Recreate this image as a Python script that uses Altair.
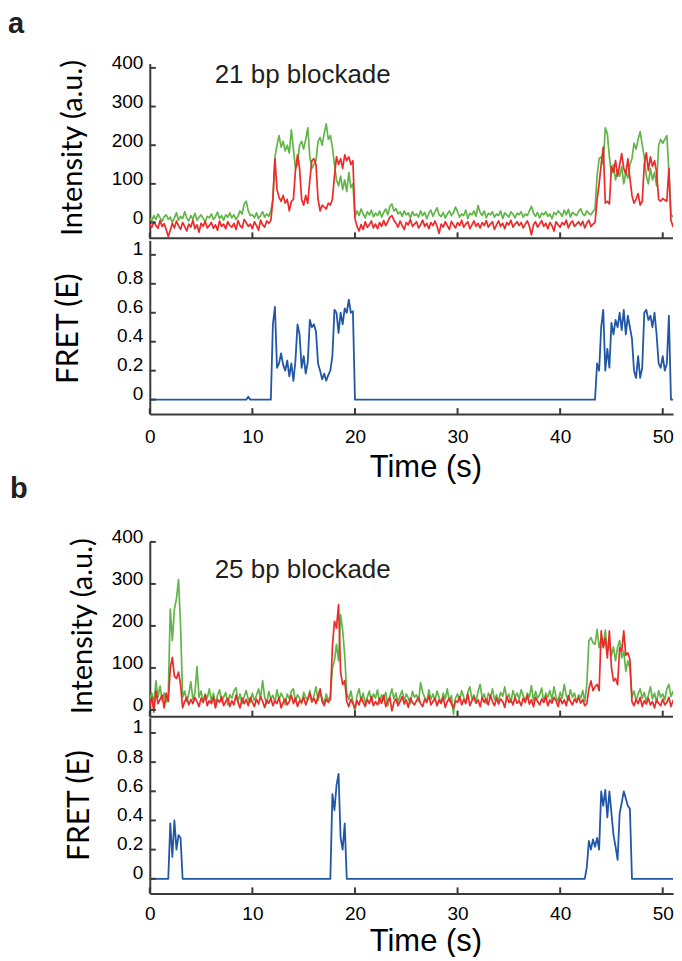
import altair as alt
import numpy as np
import pandas as pd

# ---------------- data ----------------
DT = 0.2          # seconds per sample
T_MAX = 51.0      # right edge of the visible time axis

# panel a (21 bp blockade) – donor (green) and acceptor (red) intensities, one row = 2 s
GREEN_A = [
    10, 5, 18, 8, 22, 12, 3, 15, 20, 8,
    14, 0, 12, 25, 6, 16, 10, 28, 12, 4,
    18, 9, 24, 6, 14, 20, 10, 2, 16, 12,
    22, 8, 15, 27, 10, 18, 6, 20, 14, 25,
    12, 20, 8, 16, 30, 22, 48, 55, 30, 18,
    20, 12, 25, 10, 18, 28, 14, 22, 16, 30,
    60, 170, 200, 225, 195, 210, 185, 200, 180, 240,
    190, 140, 150, 200, 210, 190, 215, 245, 170, 140,
    150, 160, 210, 220, 200, 230, 255, 215, 225, 195,
    150, 110, 95, 120, 85, 110, 80, 130, 90, 100,
    15, 30, 18, 35, 22, 12, 28, 20, 32, 15,
    24, 18, 30, 14, 26, 35, 20, 42, 48, 30,
    36, 22, 28, 16, 30, 20, 25, 12, 28, 18,
    22, 14, 30, 18, 26, 10, 24, 32, 16, 28,
    38, 20, 15, 26, 12, 22, 30, 18, 25, 40,
    28, 14, 22, 18, 32, 10, 24, 20, 30, 16,
    44, 26, 18, 30, 12, 24, 20, 28, 14, 22,
    18, 30, 10, 25, 20, 14, 28, 22, 12, 24,
    20, 28, 14, 22, 18, 30, 42, 24, 16, 26,
    12, 24, 20, 28, 16, 22, 10, 26, 20, 30,
    24, 16, 32, 20, 34, 14, 26, 22, 18, 28,
    36, 22, 18, 30, 24, 20, 28, 35, 120, 165,
    170, 150, 245, 230, 170, 125, 150, 110, 135, 120,
    145, 100, 130, 115, 150, 165, 205, 190, 215, 235,
    200, 170, 120, 100, 140, 110, 130, 95, 200, 215,
    205, 215, 225, 130, 20, 15, 25, 35, 50, 60,
]
RED_A = [
    -5, -12, 2, -8, -15, 5, -10, -3, -18, -36,
    -20, -2, -14, 4, -8, -18, 0, -10, -22, -4,
    -12, 6, -16, -6, -25, -2, -10, 3, -14, -8,
    0, -15, -6, -20, 4, -10, -4, -16, 2, -8,
    -12, -2, -18, 5, -8, -14, 8, 0, -10, -4,
    -16, 2, -8, -20, 6, -6, -12, 4, -2, 5,
    60, 165, 85, 65, 55, 70, 50, 60, 30, 55,
    60, 135, 175, 140, 60, 45, 70, 50, 110, 160,
    165, 150, 60, 30, 45, 40, 35, 50, 45, 60,
    120, 170, 150, 165, 140, 175, 160, 170, 150, 160,
    10, -10, -22, -5, -18, 2, -12, -6, 4, -14,
    -4, -16, 0, -10, 5, -8, 2, 14, 18, 6,
    -2, -12, 4, -8, -18, 0, -6, 8, -10, -4,
    2, -14, -6, 6, -10, -2, -16, 0, -8, 4,
    -10, -28, -4, -12, 2, -8, -18, 3, -6, -14,
    0, -8, 6, -12, -4, 2, -16, -6, 4, -10,
    -2, -14, 0, -8, 5, -12, -4, 2, -18, -6,
    4, -10, -2, -16, 0, -6, 6, -12, -4, 2,
    -8, 0, -14, -4, 4, -10, -32, -6, 2, -12,
    -4, 5, -10, -2, -16, 0, -8, -22, 2, -6,
    -12, 0, -6, 6, -14, -2, 4, -10, -4, 2,
    -8, 3, -14, -2, 6, -10, -4, 0, 60, 100,
    150, 195, 50, 55, 48, 145, 130, 160, 120, 150,
    178, 140, 125, 165, 115, 70, 50, 60, 75, 45,
    55, 150, 180, 135, 170, 145, 160, 130, 60, 55,
    62, 58, 55, 140, 5, -10, 2, -8, 4, -6,
]
# FRET efficiency: zero outside the bound states; (start time, values every DT)
FRET_A_EVENTS = [
    (9.6, [0.02]),
    (12.0, [0.52, 0.64, 0.22, 0.25, 0.32, 0.24, 0.20, 0.27, 0.16, 0.25,
            0.13, 0.27, 0.52, 0.45, 0.22, 0.30, 0.18, 0.26, 0.55, 0.50,
            0.52, 0.47, 0.25, 0.20, 0.14, 0.18, 0.13, 0.17, 0.20, 0.30,
            0.62, 0.60, 0.46, 0.60, 0.52, 0.63, 0.60, 0.69, 0.60, 0.61]),
    (43.6, [0.25, 0.20, 0.50, 0.62, 0.20, 0.35, 0.22, 0.53, 0.45, 0.55,
            0.50, 0.60, 0.48, 0.62, 0.45, 0.58, 0.50, 0.42, 0.20, 0.15,
            0.30, 0.15, 0.22, 0.60, 0.62, 0.55, 0.58, 0.50, 0.60, 0.45,
            0.25, 0.22, 0.30, 0.20, 0.25, 0.58]),
]

# panel b (25 bp blockade)
GREEN_B = [
    25, 40, 15, 69, 30, 57, 22, 40, 18, 35,
    240, 165, 240, 265, 310, 200, 30, 45, 20, 38,
    67, 25, 40, 103, 30, 45, 18, 38, 28, 50,
    22, 40, 15, 35, 48, 20, 30, 42, 12, 36,
    28, 45, 53, 20, 38, 15, 32, 46, 25, 18,
    40, 22, 35, 50, 28, 69, 30, 15, 44, 26,
    35, 18, 48, 24, 40, 30, 12, 38, 26, 45,
    50, 20, 36, 28, 15, 42, 30, 24, 46, 18,
    34, 55, 22, 40, 28, 15, 38, 24, 30, 100,
    117, 156, 117, 227, 190, 130, 40, 25, 45, 20,
    -5, 35, 50, 22, 40, 15, 30, 45, 20, 38,
    28, 48, 15, 36, 24, 42, 10, 32, 50, 26,
    40, 18, 34, 46, 22, 38, 28, 15, 44, 30,
    36, 20, 65, 42, 30, 18, 48, 25, 38, 22,
    45, 30, 15, 40, 26, 50, 20, 34, -10, 28,
    38, 22, 46, 30, 18, 42, 55, 26, 36, 20,
    44, 61, 28, 38, 15, 40, 30, 50, 24, 36,
    20, 42, 32, 55, 26, 38, 18, 46, 30, 40,
    25, 48, 34, 20, 40, 30, 58, 22, 44, 28,
    36, 52, 18, 40, 30, 46, 24, 55, 32, 20,
    42, 28, 61, 34, 22, 48, 30, 40, 18, 36,
    28, 46, 20, 60, 164, 172, 160, 156, 192, 148,
    170, 150, 190, 140, 160, 130, 150, 117, 150, 165,
    124, 140, 92, 117, 100, 30, 45, 22, 38, 50,
    28, 42, 20, 35, 55, 26, 40, 18, 46, 30,
    38, 24, 50, 61, 32, 44, 20, 36, 52, 28,
]
RED_B = [
    10, 30, -5, 45, 15, 25, 35, 5, 40, 20,
    100, 125, 80, 75, 90, 60, 5, 20, 30, 12,
    25, 15, 30, 20, 8, 28, 18, 35, 10, 22,
    15, 30, 5, 25, 18, 32, 10, 20, 28, 8,
    22, 12, 35, 18, 5, 28, 15, 25, 10, 30,
    18, 8, 26, 14, 32, 20, 6, 24, 16, 28,
    10, 22, 15, 30, 5, 18, 26, 12, 20, 35,
    15, 28, 8, 22, 18, 30, 12, 25, 40, 20,
    28, 15, 32, 50, 20, 10, 26, 18, 25, 150,
    211, 195, 251, 90, 60, 70, 20, 8, 25, 15,
    5, 22, 12, 30, 18, 8, 25, 15, 32, 10,
    20, 12, 28, 16, 35, 8, 22, 30, -2, 18,
    26, 10, 20, 32, 14, 24, 6, 28, 18, 12,
    22, 30, 15, 8, 26, 18, 34, 12, 20, 28,
    10, 24, 16, 30, 6, 20, 28, 14, 5, 22,
    18, 32, 12, 25, 15, 38, 10, 22, 30, 16,
    24, 8, 30, 18, 26, 12, 35, 20, 10, 28,
    14, 26, 20, 6, 32, 18, 24, 12, 30, 16,
    22, 10, 28, 18, 35, 14, 24, 8, 30, 20,
    12, 26, 18, 32, 10, 24, 16, 30, 22, 8,
    28, 15, 24, 10, 34, 20, 12, 26, 18, 30,
    16, 25, 10, 15, 50, 69, 46, 55, 61, 46,
    188, 148, 170, 124, 188, 101, 69, 75, 60, 148,
    140, 188, 130, 136, 120, 20, 10, 25, 15, 30,
    8, 22, 14, 28, 12, 20, 5, 24, 16, 10,
    26, 12, 18, 30, 8, 22, 15, 28, 10, 20,
]
FRET_B_EVENTS = [
    (2.0, [0.38, 0.15, 0.40, 0.20, 0.30, 0.28]),
    (17.8, [0.58, 0.47, 0.64, 0.72, 0.28, 0.20, 0.38]),
    (42.6, [0.08, 0.26, 0.20, 0.27, 0.22, 0.28, 0.20, 0.60, 0.50, 0.61,
            0.42, 0.60, 0.45, 0.30, 0.22, 0.13, 0.45, 0.52, 0.60, 0.55,
            0.50, 0.48]),
]

INT_TICKS = [0, 100, 200, 300, 400]
FRET_TICKS = [0, 0.2, 0.4, 0.6, 0.8, 1]
TIME_TICKS = [0, 10, 20, 30, 40, 50]

# ---------------- styling ----------------
GREEN = "#62b548"
RED = "#ec2a2a"
BLUE = "#2257a6"
AXIS = "#3a3a3a"
NUM_FONT = "Liberation Sans"
TITLE_FONT = "Lato"
W = 524


def frames(values):
    return pd.DataFrame({"t": np.round(np.arange(len(values)) * DT, 3), "value": values})


def fret_frames(events, n):
    vals = np.zeros(n)
    for start, seg in events:
        i0 = int(round(start / DT))
        vals[i0:i0 + len(seg)] = seg
    return frames(vals)


def x_enc(with_labels, label_pad=22, title_y=62.7):
    scale = alt.Scale(domain=[0, T_MAX], nice=False, zero=False)
    if with_labels:
        axis = alt.Axis(values=TIME_TICKS, ticks=False, tickSize=0, grid=False,
                        domainColor=AXIS, domainWidth=2,
                        labelFont=NUM_FONT, labelFontSize=19, labelColor="black",
                        labelPadding=label_pad, labelBaseline="middle", labelFlush=False,
                        title="Time (s)", titleFont=NUM_FONT, titleFontSize=31,
                        titleFontWeight="normal", titleColor="black",
                        titleX=276, titleY=title_y, titleAlign="center",
                        titleBaseline="alphabetic", titleAngle=0)
        return alt.X("t:Q", scale=scale, axis=axis)
    return alt.X("t:Q", scale=scale, axis=None)


def y_enc(domain, ticks, title, title_x, title_y, fmt, label_offset, title_size):
    return alt.Y("value:Q", scale=alt.Scale(domain=domain, nice=False, zero=False),
                 axis=alt.Axis(values=ticks, format=fmt, ticks=False, tickSize=0, grid=False,
                               domainColor=AXIS, domainWidth=2,
                               labelFont=NUM_FONT, labelFontSize=19, labelColor="black",
                               labelPadding=7, labelOffset=label_offset, labelFlush=False,
                               title=title, titleFont=TITLE_FONT, titleFontSize=title_size,
                               titleFontWeight="normal", titleColor="black",
                               titleAngle=270, titleX=title_x, titleY=title_y,
                               titleAlign="center", titleBaseline="alphabetic"))


def tick_layers(x, y, yticks, height):
    yt = alt.Chart(pd.DataFrame({"value": yticks})).mark_rule(color=AXIS, strokeWidth=2).encode(
        y=y, x=alt.value(0), x2=alt.value(6))
    xt = alt.Chart(pd.DataFrame({"t": TIME_TICKS})).mark_rule(color=AXIS, strokeWidth=2).encode(
        x=x, y=alt.value(height - 6), y2=alt.value(height))
    return [yt, xt]


def label(text, px, py, size, weight="normal"):
    return alt.Chart(pd.DataFrame({"s": [text]})).mark_text(
        align="left", baseline="alphabetic", font=NUM_FONT, fontSize=size,
        fontWeight=weight, color="#231f20").encode(text="s:N", x=alt.value(px), y=alt.value(py))


def intensity(green, red, domain, height, tx, ty, note, nx, ny, extra=None):
    x = x_enc(False)
    y = y_enc(domain, INT_TICKS, "Intensity (a.u.)", tx, ty, "d", -5, 29)
    g = alt.Chart(frames(green)).mark_line(color=GREEN, strokeWidth=1.7, clip=True,
                                           strokeJoin="round").encode(x=x, y=y)
    r = alt.Chart(frames(red)).mark_line(color=RED, strokeWidth=1.7, clip=True,
                                         strokeJoin="round").encode(x=x, y=y)
    base = alt.Chart(pd.DataFrame({"s": [0]})).mark_rule(color=AXIS, strokeWidth=2).encode(
        x=alt.value(0), x2=alt.value(W), y=alt.value(height))
    layers = [g, r, base] + tick_layers(x, y, INT_TICKS, height) + [label(note, nx, ny, 26)]
    if extra is not None:
        layers.append(extra)
    return alt.layer(*layers).properties(width=W, height=height)


def fret(events, n, domain, height, tx, ty, label_pad, title_y, extra=None):
    x = x_enc(True, label_pad, title_y)
    y = y_enc(domain, FRET_TICKS, "FRET (E)", tx, ty, ".1~f", -6, 30)
    line = alt.Chart(fret_frames(events, n)).mark_line(color=BLUE, strokeWidth=1.8, clip=True,
                                                       strokeJoin="round").encode(x=x, y=y)
    layers = [line] + tick_layers(x, y, FRET_TICKS, height)
    if extra is not None:
        layers.append(extra)
    return alt.layer(*layers).properties(width=W, height=height)


int_a = intensity(GREEN_A, RED_A, [-41, 411], 175, -68, 84,
                  "21 bp blockade", 65, 19.5, extra=label("a", -142, -31, 29, "bold"))
fret_a = fret(FRET_A_EVENTS, len(GREEN_A), [-0.1, 1.1], 174, -72, 88, 22, 62.7,
              extra=label("b", -140, 258, 29, "bold"))
int_b = intensity(GREEN_B, RED_B, [-16, 400], 175, -58, 84,
                  "25 bp blockade", 65, 36.6)
fret_b = fret(FRET_B_EVENTS, len(GREEN_B), [-0.1, 1.105], 176, -61, 87.6, 20.5, 57)

panel_a = alt.vconcat(int_a, fret_a, spacing=0).resolve_scale(x="independent", y="independent")
panel_b = alt.vconcat(int_b, fret_b, spacing=0).resolve_scale(x="independent", y="independent")

chart = alt.vconcat(panel_a, panel_b, spacing=24).resolve_scale(
    x="independent", y="independent"
).properties(
    padding={"left": 0, "top": 1, "right": 0, "bottom": 0}
).configure_view(stroke=None)

chart.save("out.html", embed_options={"renderer": "svg", "actions": False})
